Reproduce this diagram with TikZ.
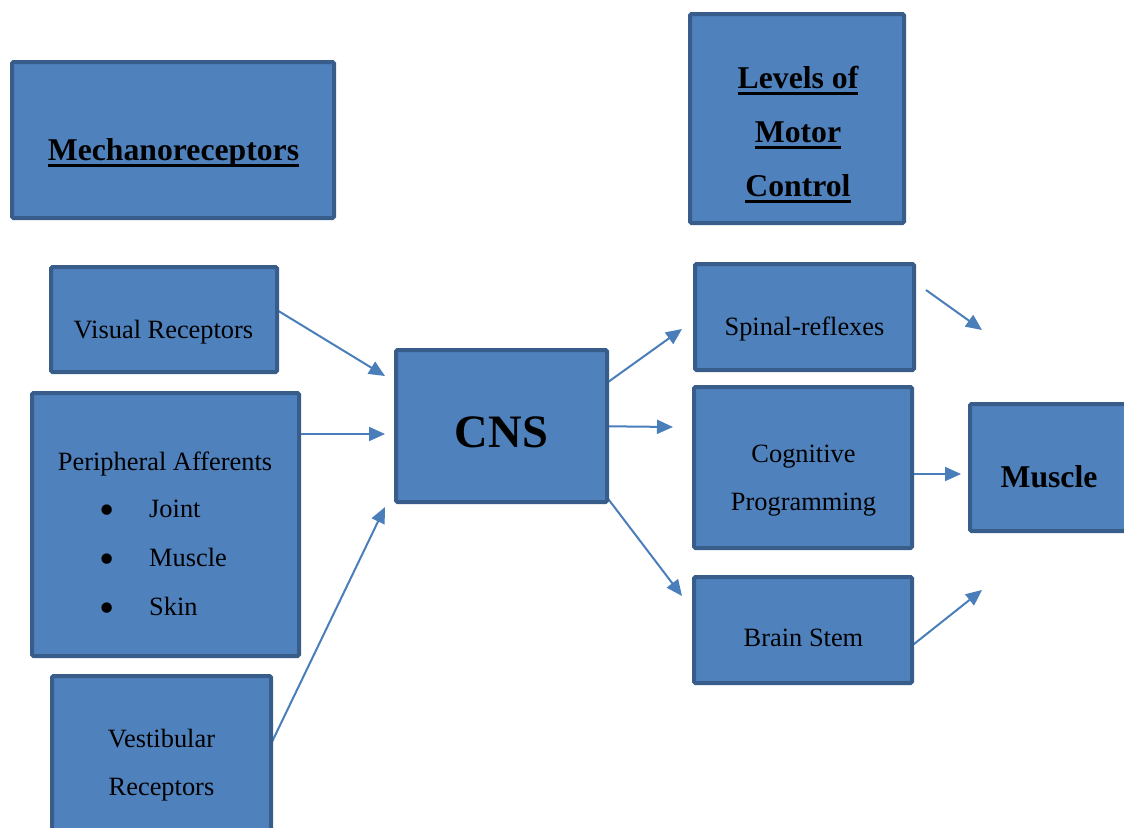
\documentclass[tikz,border=0pt]{standalone}
\usepackage{fontspec}
\setmainfont{Liberation Serif}
\usetikzlibrary{arrows.meta,calc,backgrounds}
\definecolor{boxfill}{HTML}{4F81BD}
\definecolor{boxline}{HTML}{385D8A}
\definecolor{arrowblue}{HTML}{4A7EBB}
% heavy underline placed just under the baseline
\newcommand\hdline[1]{\setbox0\hbox{#1}\rlap{\rule[-6.5pt]{\wd0}{3pt}}\box0}
\begin{document}
\begin{tikzpicture}[x=1pt,y=-1pt,
  blk/.style={draw=boxline,fill=boxfill,line width=4pt,rounded corners=1.5pt,inner sep=0pt},
  txt/.style={font=\fontsize{26.4}{47.5}\selectfont,anchor=base,inner sep=0pt,align=center},
  hd/.style={font=\fontsize{31.7}{54}\selectfont\bfseries,anchor=base,inner sep=0pt,align=center},
  dot/.style={font=\fontsize{43.5}{44}\selectfont,anchor=base,inner sep=0pt},
  link/.style={draw=arrowblue,line width=2pt,-{Triangle[length=16pt,width=14pt]}}]
\clip (0,0) rectangle (1124,827);

% boxes
\node[blk,minimum width=322pt,minimum height=156pt] (mech) at (173,140) {};
\node[blk,minimum width=214pt,minimum height=209pt] (levels) at (797,118.5) {};
\node[blk,minimum width=226pt,minimum height=105pt] (vis) at (164,319.5) {};
\node[blk,minimum width=267pt,minimum height=263pt] (per) at (165.5,524.5) {};
\node[blk,minimum width=219pt,minimum height=180pt] (vest) at (161.5,766) {};
\node[blk,minimum width=211pt,minimum height=152pt] (cns) at (501.5,426) {};
\node[blk,minimum width=219pt,minimum height=106pt] (spinal) at (804.5,317) {};
\node[blk,minimum width=218pt,minimum height=161pt] (cog) at (803,467.5) {};
\node[blk,minimum width=218pt,minimum height=106pt] (brain) at (803,630) {};
\node[blk,minimum width=160pt,minimum height=127pt] (muscle) at (1050,467.5) {};

% texts (multi-line nodes sit on the baseline of their last line)
\node[hd] (mech-t) at (173.5,160) {\hdline{Mechanoreceptors}};
\node[hd] (levels-t) at (798,196) {\hdline{Levels of}\\\hdline{Motor}\\\hdline{Control}};
\node[txt] (vis-t) at (163.5,338) {Visual Receptors};
\node[txt] (per-t) at (165,470) {Peripheral Afferents};
\node[dot] (b1) at (107,524) {\textbullet};
\node[dot] (b2) at (107,573) {\textbullet};
\node[dot] (b3) at (107,622) {\textbullet};
\node[txt,anchor=base west] (joint-t) at (149,517) {Joint};
\node[txt,anchor=base west] (musc-t) at (149,566) {Muscle};
\node[txt,anchor=base west] (skin-t) at (149,615) {Skin};
\node[txt] (vest-t) at (161.5,795) {Vestibular\\Receptors};
\node[font=\fontsize{46.5}{50}\selectfont\bfseries,anchor=base,inner sep=0pt] (cns-t) at (501.5,447) {CNS};
\node[txt] (spinal-t) at (804.5,335) {Spinal-reflexes};
\node[txt] (cog-t) at (803.5,510) {Cognitive\\Programming};
\node[txt] (brain-t) at (803.5,646) {Brain Stem};
\node[hd] (muscle-t) at (1049,487) {Muscle};

% free arrow ends
\coordinate (sp-end) at (982,330);
\coordinate (bs-end) at (982,590);

% connectors, drawn under the boxes
\begin{scope}[on background layer]
\draw[link] ($(vis.east)+(-12,-15.5)$) -- ($(cns.north west)+(-9,28)$);
\draw[link] ($(per.north east)+(-16,43)$) -- ($(cns.north west)+(-9,86)$);
\draw[link] ($(vest.north east)+(-28,124)$) -- ($(cns.south west)+(-9,3)$);
\draw[link] ($(cns.north east)+(-19,47)$) -- ($(spinal.north west)+(-11,67)$);
\draw[link] ($(cns.east)+(-27,0)$) -- ($(cog.west)+(-19,-40.5)$);
\draw[link] ($(cns.south east)+(-19,-29)$) -- ($(brain.north west)+(-10,21)$);
\draw[link] ($(spinal.north east)+(10,28)$) -- (sp-end);
\draw[link] ($(cog.east)+(-9,6.5)$) -- ($(muscle.west)+(-7,6.5)$);
\draw[link] ($(brain.east)+(-5,18)$) -- (bs-end);
\end{scope}
\end{tikzpicture}
\end{document}
